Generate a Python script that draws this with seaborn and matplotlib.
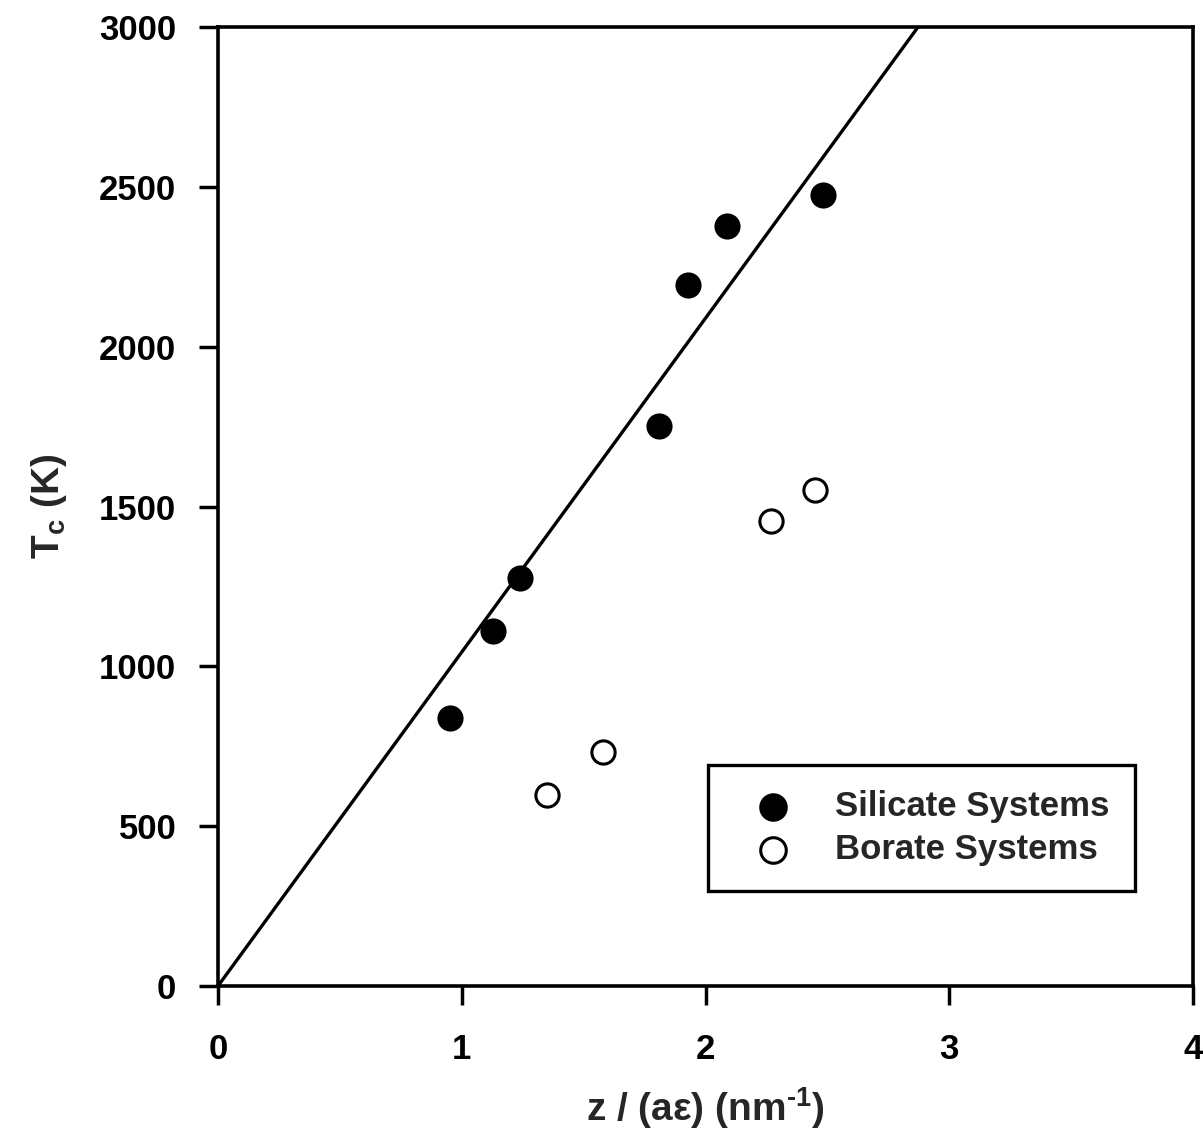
import matplotlib
matplotlib.use("Agg")
import matplotlib.pyplot as plt
import seaborn as sns
import pandas as pd

# Data
silicate_x = [0.95, 1.13, 1.24, 1.81, 1.93, 2.09, 2.48]
silicate_y = [838, 1110, 1276, 1752, 2193, 2377, 2474]
borate_x = [1.35, 1.58, 2.27, 2.45]
borate_y = [597, 732, 1454, 1551]
fit_x = [0.0, 2.872]
fit_y = [0.0, 3000.0]
x_ticks = [0, 1, 2, 3, 4]
y_ticks = [0, 500, 1000, 1500, 2000, 2500, 3000]

sns.set_theme(style="white")
plt.rcParams['font.family'] = ['Liberation Sans', 'DejaVu Sans']
plt.rcParams['mathtext.fontset'] = 'custom'
plt.rcParams['mathtext.rm'] = 'Liberation Sans:bold'
plt.rcParams['mathtext.it'] = 'Liberation Sans:bold'
plt.rcParams['mathtext.bf'] = 'Liberation Sans:bold'
plt.rcParams['axes.unicode_minus'] = False

fig = plt.figure(figsize=(12.03, 11.48), dpi=100)
ax = fig.add_axes([218/1203, 1-986/1148, 975/1203, 959/1148])

df_s = pd.DataFrame({"x": silicate_x, "y": silicate_y})
df_b = pd.DataFrame({"x": borate_x, "y": borate_y})
df_fit = pd.DataFrame({"x": fit_x, "y": fit_y})

sns.lineplot(data=df_fit, x="x", y="y", ax=ax, color="black", linewidth=2.4)
sns.scatterplot(data=df_s, x="x", y="y", ax=ax, s=300, color="black",
                edgecolor="black", linewidth=1.5, label="Silicate Systems", zorder=3)
sns.scatterplot(data=df_b, x="x", y="y", ax=ax, s=280, facecolor="white",
                edgecolor="black", linewidth=2.2, label="Borate Systems", zorder=3)

ax.set_xlim(0, 4)
ax.set_ylim(0, 3000)
ax.set_xticks(x_ticks)
ax.set_yticks(y_ticks)
ax.tick_params(axis="both", direction="out", length=14, width=2.5, colors="black",
               labelsize=25, bottom=True, left=True)
ax.tick_params(axis="x", pad=20)
ax.tick_params(axis="y", pad=16)
for lab in ax.get_xticklabels() + ax.get_yticklabels():
    lab.set_fontweight("bold")
for sp in ax.spines.values():
    sp.set_color("black")
    sp.set_linewidth(2.6)

ax.set_xlabel("z / (a\u03b5) (nm$^{\\text{-1}}$)", fontsize=28,
              fontweight="bold", labelpad=14)
ax.set_ylabel("T$_{\\mathregular{c}}$ (K)", fontsize=28, fontweight="bold", labelpad=22)

leg = ax.legend(loc="upper left", bbox_to_anchor=(0.5026, 0.2304),
                prop={"size": 25, "weight": "bold"}, markerscale=1.1,
                frameon=True, fancybox=False, edgecolor="black", framealpha=1,
                handletextpad=0.65, borderpad=0.72, labelspacing=0.28, handlelength=2.3,
                borderaxespad=0)
leg.get_frame().set_linewidth(2.4)

fig.savefig("out.png", dpi=100)
